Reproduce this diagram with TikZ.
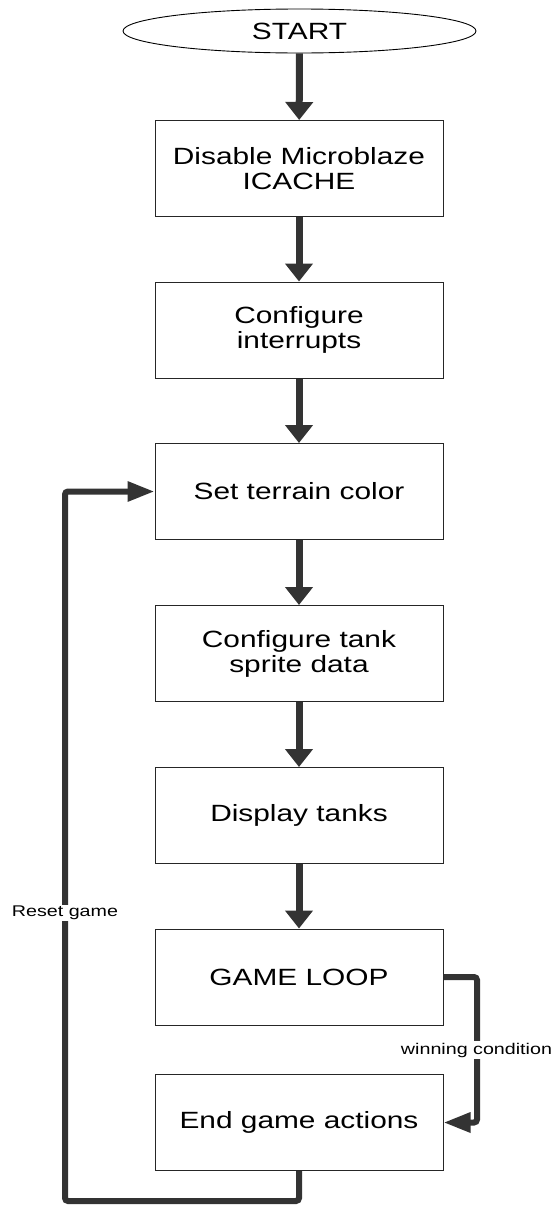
\documentclass[tikz,border=0pt]{standalone}
\usepackage{fontspec}
\setmainfont{Liberation Sans}
\newfontfamily\widefont[FakeStretch=1.27]{Liberation Sans}
\usetikzlibrary{arrows.meta,shapes.geometric}
\definecolor{arrowgray}{HTML}{333333}
\tikzset{
  stepbox/.style={draw=black!85, line width=1pt, minimum width=288pt, minimum height=96pt,
    align=center, font=\widefont\fontsize{23.5}{25}\selectfont, inner sep=0pt},
  startshape/.style={ellipse, draw=black, line width=0.9pt, minimum width=353pt, minimum height=44pt,
    font=\widefont\fontsize{23.5}{25}\selectfont, inner sep=0pt},
  flow/.style={draw=arrowgray, line width=7pt, -{Triangle[width=27pt,length=18pt]}},
  loopflow/.style={draw=arrowgray, line width=6pt, rounded corners=3pt, -{Triangle[width=19pt,length=27pt]}},
  lab/.style={fill=white, inner sep=1.5pt, font=\widefont\fontsize{15.5}{16}\selectfont}
}
\begin{document}
\begin{tikzpicture}[x=1pt,y=-1pt]
\useasboundingbox (0,0) rectangle (556,1205);
\node[startshape] (start) at (299.5,31) {START};
\node[stepbox] (b1) at (299,168.5) {Disable Microblaze\\ICACHE};
\node[stepbox] (b2) at (299,330) {Configure\\interrupts};
\node[stepbox] (b3) at (299,491.5) {Set terrain color};
\node[stepbox] (b4) at (299,653.5) {Configure tank\\sprite data};
\node[stepbox] (b5) at (299,815.5) {Display tanks};
\node[stepbox] (b6) at (299,977) {GAME LOOP};
\node[stepbox] (b7) at (299,1122.5) {End game actions};
\draw[flow] (start) -- (b1);
\draw[flow] (b1) -- (b2);
\draw[flow] (b2) -- (b3);
\draw[flow] (b3) -- (b4);
\draw[flow] (b4) -- (b5);
\draw[flow] (b5) -- (b6);
\coordinate (lc) at (65,1201);
\coordinate (rc) at (477,977);
\draw[loopflow] (b7.south) |- (lc) |- (b3.west);
\draw[loopflow] (b6.east) -- (rc) |- (b7.east);
\node[lab] (reset) at (65,913) {Reset game};
\node[lab] (win) at (476.5,1050) {winning condition};
\end{tikzpicture}
\end{document}
